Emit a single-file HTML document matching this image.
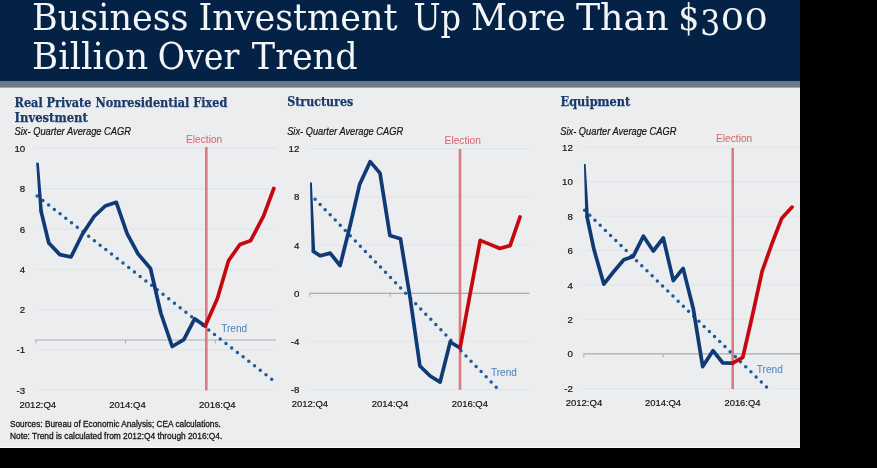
<!DOCTYPE html>
<html lang="en">
<head>
<meta charset="utf-8">
<title>Business Investment Up More Than $300 Billion Over Trend</title>
<style>
html,body{margin:0;padding:0;background:#000;}
body{width:877px;height:468px;overflow:hidden;position:relative;}
#page{position:absolute;left:0;top:0;width:800px;height:448px;background:#ebedef;overflow:hidden;}
svg{position:absolute;left:0;top:0;display:block;}
.hd{font-family:"DejaVu Serif Condensed", "DejaVu Serif", "Liberation Serif", serif;font-size:37px;fill:#f4f5f7;}
.os{font-family:"DejaVu Serif","Liberation Serif",serif;font-size:29.5px;}
.ct{font-family:"DejaVu Serif Condensed", "DejaVu Serif", "Liberation Serif", serif;font-weight:bold;font-size:12.6px;fill:#1b3b6b;stroke:#1b3b6b;stroke-width:0.25px;}
.sub{font-family:"Liberation Sans", sans-serif;font-style:italic;font-size:10.2px;fill:#141414;stroke:#141414;stroke-width:0.2px;}
.ax{font-family:"Liberation Sans", sans-serif;font-size:9.7px;fill:#141414;stroke:#141414;stroke-width:0.2px;}
.el{font-family:"Liberation Sans", sans-serif;font-size:10.4px;fill:#d9606c;}
.tr{font-family:"Liberation Sans", sans-serif;font-size:10.4px;fill:#4a7fb8;}
.fn{font-family:"Liberation Sans", sans-serif;font-size:8.7px;fill:#141414;stroke:#141414;stroke-width:0.28px;}
</style>
</head>
<body>
<div id="page">
<svg width="800" height="448" viewBox="0 0 800 448">
<rect x="0" y="0" width="800" height="448" fill="#ebedef"/>
<rect x="0" y="0" width="800" height="81" fill="#042146"/>
<rect x="0" y="81" width="800" height="6.6" fill="#6c7a86"/>
<rect x="0" y="446.8" width="800" height="1.2" fill="#f8f9fa"/>
<g class="hd"><text x="32.1" y="30.1" textLength="156.4" lengthAdjust="spacingAndGlyphs" class="hw">Business</text> <text x="198.4" y="30.1" textLength="199.1" lengthAdjust="spacingAndGlyphs" class="hw">Investment</text> <text x="413.5" y="30.1" textLength="47.6" lengthAdjust="spacingAndGlyphs" class="hw">Up</text> <text x="471.0" y="30.1" textLength="94.9" lengthAdjust="spacingAndGlyphs" class="hw">More</text> <text x="575.9" y="30.1" textLength="92.7" lengthAdjust="spacingAndGlyphs" class="hw">Than</text> <text y="30.1" class="hw"><tspan x="678.3">$</tspan><tspan x="700.3" dy="4.9" style="font-size:35px">3</tspan><tspan x="720.4" dy="-4.9" textLength="47.6" lengthAdjust="spacingAndGlyphs" class="os">00</tspan></text>
<text x="32.1" y="69.1" textLength="116.1" lengthAdjust="spacingAndGlyphs" class="hw">Billion</text> <text x="157.7" y="69.1" textLength="81.6" lengthAdjust="spacingAndGlyphs" class="hw">Over</text> <text x="251.8" y="69.1" textLength="105.8" lengthAdjust="spacingAndGlyphs" class="hw">Trend</text></g>
<line x1="35.3" x2="276" y1="148.2" y2="148.2" stroke="#e1e3e6" stroke-width="1"/>
<line x1="35.3" x2="276" y1="188.6" y2="188.6" stroke="#e1e3e6" stroke-width="1"/>
<line x1="35.3" x2="276" y1="229.1" y2="229.1" stroke="#e1e3e6" stroke-width="1"/>
<line x1="35.3" x2="276" y1="269.4" y2="269.4" stroke="#e1e3e6" stroke-width="1"/>
<line x1="35.3" x2="276" y1="309.8" y2="309.8" stroke="#e1e3e6" stroke-width="1"/>
<line x1="35.3" x2="276" y1="349.8" y2="349.8" stroke="#e1e3e6" stroke-width="1"/>
<line x1="35.3" x2="276" y1="390.0" y2="390.0" stroke="#e1e3e6" stroke-width="1"/>
<line x1="35.3" x2="276" y1="340.0" y2="340.0" stroke="#adadad" stroke-width="1.2"/>
<line x1="35.8" x2="35.8" y1="340.0" y2="343.5" stroke="#adadad" stroke-width="1"/>
<line x1="125.5" x2="125.5" y1="340.0" y2="343.5" stroke="#adadad" stroke-width="1"/>
<line x1="215.4" x2="215.4" y1="340.0" y2="343.5" stroke="#adadad" stroke-width="1"/>
<line x1="206.3" x2="206.3" y1="147" y2="390.4" stroke="#dc7a7f" stroke-width="2.6"/>
<line x1="37.2" y1="196" x2="271.86" y2="379.32" stroke="#1f5a9a" stroke-width="3.5" stroke-linecap="round" stroke-dasharray="0 7.258"/>
<polygon points="36.20,162.8 38.80,162.8 42.90,211.4 39.30,211.4" fill="#0f3a75"/>
<polyline points="41.1,211.4 48.8,243.0 59.9,254.6 71.0,257.0 82.2,234.5 94.1,216.5 105.2,206.0 116.3,202.3 127.1,233.6 138.2,254.1 150.5,268.5 160.8,313.0 172.2,346.5 183.8,339.7 194.6,318.8 205.2,326.0" fill="none" stroke="#0f3a75" stroke-width="3.7" stroke-linejoin="round" stroke-linecap="round"/>
<polyline points="205.2,326.0 217.4,298.4 228.5,260.8 239.9,244.5 250.5,240.8 263.5,216.2 273.8,188.5" fill="none" stroke="#c6080e" stroke-width="3.7" stroke-linejoin="round" stroke-linecap="round"/>
<text x="25.2" y="151.8" text-anchor="end" class="ax">10</text>
<text x="25.2" y="192.2" text-anchor="end" class="ax">8</text>
<text x="25.2" y="232.7" text-anchor="end" class="ax">6</text>
<text x="25.2" y="273.0" text-anchor="end" class="ax">4</text>
<text x="25.2" y="313.4" text-anchor="end" class="ax">2</text>
<text x="25.2" y="353.4" text-anchor="end" class="ax">-1</text>
<text x="25.2" y="393.6" text-anchor="end" class="ax">-3</text>
<text x="19.4" y="408.1" textLength="36.8" lengthAdjust="spacingAndGlyphs" class="ax">2012:Q4</text>
<text x="109.2" y="408.1" textLength="36.5" lengthAdjust="spacingAndGlyphs" class="ax">2014:Q4</text>
<text x="199" y="408.1" textLength="36.7" lengthAdjust="spacingAndGlyphs" class="ax">2016:Q4</text>
<text x="186" y="142.6" textLength="36.3" lengthAdjust="spacingAndGlyphs" class="el">Election</text>
<text x="221.2" y="331.5" textLength="25.9" lengthAdjust="spacingAndGlyphs" class="tr">Trend</text>
<line x1="309" x2="529.5" y1="148.6" y2="148.6" stroke="#e1e3e6" stroke-width="1"/>
<line x1="309" x2="529.5" y1="196.8" y2="196.8" stroke="#e1e3e6" stroke-width="1"/>
<line x1="309" x2="529.5" y1="245.0" y2="245.0" stroke="#e1e3e6" stroke-width="1"/>
<line x1="309" x2="529.5" y1="293.2" y2="293.2" stroke="#e1e3e6" stroke-width="1"/>
<line x1="309" x2="529.5" y1="341.4" y2="341.4" stroke="#e1e3e6" stroke-width="1"/>
<line x1="309" x2="529.5" y1="389.6" y2="389.6" stroke="#e1e3e6" stroke-width="1"/>
<line x1="309" x2="529.5" y1="293.3" y2="293.3" stroke="#adadad" stroke-width="1.2"/>
<line x1="309.8" x2="309.8" y1="293.3" y2="296.8" stroke="#adadad" stroke-width="1"/>
<line x1="390.3" x2="390.3" y1="293.3" y2="296.8" stroke="#adadad" stroke-width="1"/>
<line x1="469.6" x2="469.6" y1="293.3" y2="296.8" stroke="#adadad" stroke-width="1"/>
<line x1="460.0" x2="460.0" y1="149" y2="389.7" stroke="#dc7a7f" stroke-width="2.6"/>
<line x1="315.1" y1="199.2" x2="496.34" y2="387.44" stroke="#1f5a9a" stroke-width="3.5" stroke-linecap="round" stroke-dasharray="0 7.253"/>
<polygon points="309.95,182.5 311.85,182.5 315.20,251.5 311.60,251.5" fill="#0f3a75"/>
<polyline points="313.4,251.5 320.4,255.8 330.2,253.1 340.1,265.6 350.0,226.0 359.7,184.2 370.2,161.6 380.0,173.1 389.9,235.4 400.5,238.8 410.3,299.0 419.9,366.0 430.2,376.0 440.1,382.1 450.2,342.0 460.1,348.0" fill="none" stroke="#0f3a75" stroke-width="3.7" stroke-linejoin="round" stroke-linecap="round"/>
<polyline points="460.1,348.0 470.0,294.5 480.2,240.4 490.0,244.4 499.8,248.5 510.1,245.6 520.0,217.0" fill="none" stroke="#c6080e" stroke-width="3.7" stroke-linejoin="round" stroke-linecap="round"/>
<text x="299.3" y="152.2" text-anchor="end" class="ax">12</text>
<text x="299.3" y="200.4" text-anchor="end" class="ax">8</text>
<text x="299.3" y="248.6" text-anchor="end" class="ax">4</text>
<text x="299.3" y="296.8" text-anchor="end" class="ax">0</text>
<text x="299.3" y="345.0" text-anchor="end" class="ax">-4</text>
<text x="299.3" y="393.2" text-anchor="end" class="ax">-8</text>
<text x="291.8" y="407.2" textLength="36.3" lengthAdjust="spacingAndGlyphs" class="ax">2012:Q4</text>
<text x="371.7" y="407.2" textLength="36.6" lengthAdjust="spacingAndGlyphs" class="ax">2014:Q4</text>
<text x="451.7" y="407.2" textLength="36.2" lengthAdjust="spacingAndGlyphs" class="ax">2016:Q4</text>
<text x="444.6" y="144.2" textLength="36.3" lengthAdjust="spacingAndGlyphs" class="el">Election</text>
<text x="491" y="375.8" textLength="25.9" lengthAdjust="spacingAndGlyphs" class="tr">Trend</text>
<line x1="583.6" x2="800" y1="147.3" y2="147.3" stroke="#e1e3e6" stroke-width="1"/>
<line x1="583.6" x2="800" y1="181.7" y2="181.7" stroke="#e1e3e6" stroke-width="1"/>
<line x1="583.6" x2="800" y1="216.1" y2="216.1" stroke="#e1e3e6" stroke-width="1"/>
<line x1="583.6" x2="800" y1="250.5" y2="250.5" stroke="#e1e3e6" stroke-width="1"/>
<line x1="583.6" x2="800" y1="284.9" y2="284.9" stroke="#e1e3e6" stroke-width="1"/>
<line x1="583.6" x2="800" y1="319.3" y2="319.3" stroke="#e1e3e6" stroke-width="1"/>
<line x1="583.6" x2="800" y1="353.7" y2="353.7" stroke="#e1e3e6" stroke-width="1"/>
<line x1="583.6" x2="800" y1="388.6" y2="388.6" stroke="#e1e3e6" stroke-width="1"/>
<line x1="583.6" x2="800" y1="353.9" y2="353.9" stroke="#adadad" stroke-width="1.2"/>
<line x1="583.9" x2="583.9" y1="353.9" y2="357.4" stroke="#adadad" stroke-width="1"/>
<line x1="663.2" x2="663.2" y1="353.9" y2="357.4" stroke="#adadad" stroke-width="1"/>
<line x1="742.4" x2="742.4" y1="353.9" y2="357.4" stroke="#adadad" stroke-width="1"/>
<line x1="732.7" x2="732.7" y1="148" y2="389" stroke="#dc7a7f" stroke-width="2.6"/>
<line x1="584.6" y1="210.2" x2="766.64" y2="387.14" stroke="#1f5a9a" stroke-width="3.5" stroke-linecap="round" stroke-dasharray="0 7.248"/>
<polygon points="583.95,164.0 585.65,164.0 588.90,217.1 585.30,217.1" fill="#0f3a75"/>
<polyline points="587.1,217.1 594.0,249.6 603.8,284.1 613.8,271.5 623.8,259.8 633.2,256.4 643.4,236.2 653.3,251.0 663.3,238.0 673.3,280.7 683.1,268.4 693.3,308.8 702.7,366.6 713.0,350.7 722.9,363.0 732.6,363.2" fill="none" stroke="#0f3a75" stroke-width="3.7" stroke-linejoin="round" stroke-linecap="round"/>
<polyline points="732.6,363.2 742.8,357.4 752.4,315.5 762.1,271.4 772.0,243.5 781.8,218.2 792.1,207.1" fill="none" stroke="#c6080e" stroke-width="3.7" stroke-linejoin="round" stroke-linecap="round"/>
<text x="572.9" y="150.9" text-anchor="end" class="ax">12</text>
<text x="572.9" y="185.3" text-anchor="end" class="ax">10</text>
<text x="572.9" y="219.7" text-anchor="end" class="ax">8</text>
<text x="572.9" y="254.1" text-anchor="end" class="ax">6</text>
<text x="572.9" y="288.5" text-anchor="end" class="ax">4</text>
<text x="572.9" y="322.9" text-anchor="end" class="ax">2</text>
<text x="572.9" y="357.3" text-anchor="end" class="ax">0</text>
<text x="572.9" y="392.2" text-anchor="end" class="ax">-2</text>
<text x="565.7" y="406.1" textLength="36.5" lengthAdjust="spacingAndGlyphs" class="ax">2012:Q4</text>
<text x="644.9" y="406.1" textLength="36.2" lengthAdjust="spacingAndGlyphs" class="ax">2014:Q4</text>
<text x="724.5" y="406.1" textLength="35.9" lengthAdjust="spacingAndGlyphs" class="ax">2016:Q4</text>
<text x="716" y="141.9" textLength="36.3" lengthAdjust="spacingAndGlyphs" class="el">Election</text>
<text x="756.7" y="372.5" textLength="26.2" lengthAdjust="spacingAndGlyphs" class="tr">Trend</text>
<text x="14.6" y="107.1" textLength="212.7" lengthAdjust="spacingAndGlyphs" class="ct">Real Private Nonresidential Fixed</text>
<text x="14.6" y="122.1" textLength="73.3" lengthAdjust="spacingAndGlyphs" class="ct">Investment</text>
<text x="287.2" y="105.9" textLength="66.0" lengthAdjust="spacingAndGlyphs" class="ct">Structures</text>
<text x="560.5" y="105.9" textLength="69.8" lengthAdjust="spacingAndGlyphs" class="ct">Equipment</text>
<text x="14.5" y="135.2" textLength="116.5" lengthAdjust="spacingAndGlyphs" class="sub">Six- Quarter Average CAGR</text>
<text x="287.2" y="134.9" textLength="115.9" lengthAdjust="spacingAndGlyphs" class="sub">Six- Quarter Average CAGR</text>
<text x="560.3" y="134.6" textLength="116.1" lengthAdjust="spacingAndGlyphs" class="sub">Six- Quarter Average CAGR</text>
<text x="10" y="427.3" textLength="210.9" lengthAdjust="spacingAndGlyphs" class="fn">Sources: Bureau of Economic Analysis; CEA calculations.</text>
<text x="10" y="438.5" textLength="212.3" lengthAdjust="spacingAndGlyphs" class="fn">Note: Trend is calculated from 2012:Q4 through 2016:Q4.</text>
</svg>
</div>
</body>
</html>
